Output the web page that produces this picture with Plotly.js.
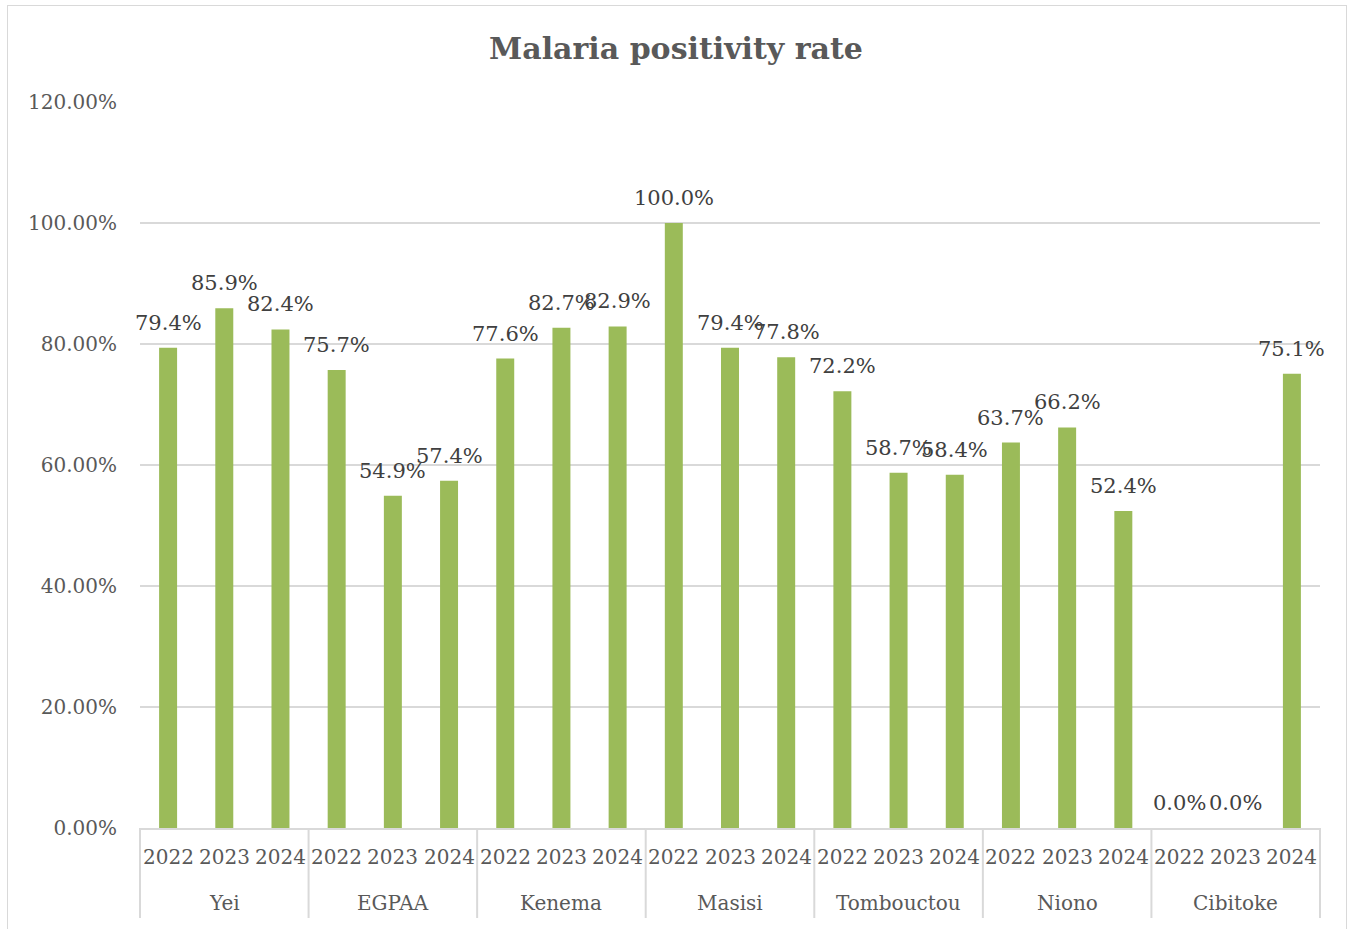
<!DOCTYPE html>
<html>
<head>
<meta charset="utf-8">
<script src="https://cdn.plot.ly/plotly-3.0.1.min.js"></script>
<style>
  html, body { margin: 0; padding: 0; background: #ffffff; }
  #frame { position: absolute; left: 7px; top: 5px; width: 1340px; height: 940px; border: 1px solid #d9d9d9; box-sizing: border-box; }
  #chart { position: absolute; left: 0; top: 0; width: 1352px; height: 929px; }
</style>
</head>
<body>
<div id="frame"></div>
<div id="chart"></div>
<script>
// Sites and reporting years
const sites = ["Yei", "EGPAA", "Kenema", "Masisi", "Tombouctou", "Niono", "Cibitoke"];
const years = ["2022", "2023", "2024"];

// Positivity rate per site, one value per year (fractions)
const yei        = [0.794, 0.859, 0.824];
const egpaa      = [0.757, 0.549, 0.574];
const kenema     = [0.776, 0.827, 0.829];
const masisi     = [1.000, 0.794, 0.778];
const tombouctou = [0.722, 0.587, 0.584];
const niono      = [0.637, 0.662, 0.524];
const cibitoke   = [0.000, 0.000, 0.751];

const seriesBySite = [yei, egpaa, kenema, masisi, tombouctou, niono, cibitoke];

const outer = [], inner = [], rates = [];
sites.forEach((s, i) => {
  years.forEach((yr, j) => {
    outer.push(s);
    inner.push(yr);
    rates.push(seriesBySite[i][j]);
  });
});

const n = rates.length;
const perGroup = years.length;
const textColor = "#595959";
const gridColor = "#d9d9d9";
const fontFamily = "'DejaVu Serif', 'Liberation Serif', serif";

const bars = {
  type: "bar",
  x: [outer, inner],
  y: rates,
  marker: { color: "#9bbb59" },
  hoverinfo: "skip"
};

// Centre of slot i across the plot width, as a paper fraction
const slotCentre = i => (i + 0.5) / n;

const annotations = [];
const shapes = [];

// Value labels above each bar
rates.forEach((v, i) => {
  annotations.push({
    xref: "paper", yref: "y",
    x: slotCentre(i), y: v,
    text: (v * 100).toFixed(1) + "%",
    showarrow: false,
    xanchor: "center", yanchor: "middle",
    yshift: 25,
    font: { family: fontFamily, size: 21, color: "#404040" }
  });
});

// Year labels (first row under the axis)
inner.forEach((yr, i) => {
  annotations.push({
    xref: "paper", yref: "paper",
    x: slotCentre(i), y: 0,
    text: yr,
    showarrow: false,
    xanchor: "center", yanchor: "middle",
    yshift: -29,
    font: { family: fontFamily, size: 20, color: textColor }
  });
});

// Site labels (second row) and the dividers between sites
sites.forEach((s, k) => {
  annotations.push({
    xref: "paper", yref: "paper",
    x: (k * perGroup + perGroup / 2) / n, y: 0,
    text: s,
    showarrow: false,
    xanchor: "center", yanchor: "middle",
    yshift: -75,
    font: { family: fontFamily, size: 20, color: textColor }
  });
});
for (let k = 0; k <= sites.length; k++) {
  shapes.push({
    type: "line",
    xref: "paper", yref: "paper",
    x0: (k * perGroup) / n, x1: (k * perGroup) / n,
    y0: 0, y1: -90 / 726,
    line: { color: gridColor, width: 2 }
  });
}

const layout = {
  width: 1352,
  height: 929,
  margin: { l: 140, r: 32, t: 102, b: 101 },
  paper_bgcolor: "rgba(0,0,0,0)",
  plot_bgcolor: "rgba(0,0,0,0)",
  bargap: 0.68,
  showlegend: false,
  title: {
    text: "<b>Malaria positivity rate</b>",
    x: 0.5,
    xanchor: "center",
    y: 0.948,
    yanchor: "middle",
    font: { family: fontFamily, size: 30, color: textColor }
  },
  xaxis: {
    type: "multicategory",
    range: [-0.5, n - 0.5],
    autorange: false,
    showline: true,
    linecolor: gridColor,
    linewidth: 2,
    showdividers: false,
    showticklabels: false,
    ticks: "",
    showgrid: false
  },
  yaxis: {
    range: [0, 1.2],
    dtick: 0.2,
    tickformat: ".2%",
    showgrid: true,
    gridcolor: gridColor,
    gridwidth: 2,
    zeroline: false,
    showline: false,
    ticks: "",
    ticklabelstandoff: 22,
    tickfont: { family: fontFamily, size: 20, color: textColor }
  },
  annotations: annotations,
  shapes: shapes,
  font: { family: fontFamily, color: textColor }
};

Plotly.newPlot("chart", [bars], layout, { displayModeBar: false, staticPlot: true });
</script>
</body>
</html>
